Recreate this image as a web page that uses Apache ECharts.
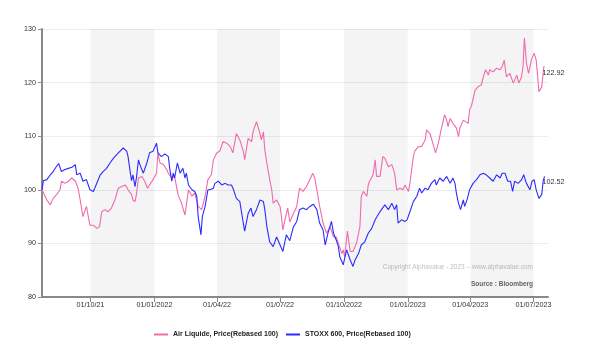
<!DOCTYPE html>
<html>
<head>
<meta charset="utf-8">
<script src="https://cdn.jsdelivr.net/npm/echarts@6/dist/echarts.min.js"></script>
<style>
html,body{margin:0;padding:0;background:#fff;}
#c{width:605px;height:357px;}
</style>
</head>
<body>
<div id="c"></div>
<script>
// ---- data (days counted from startDate) ----
var startDate = '2021-07-23';
var endDate = '2023-07-22';

var airDays = [0,7,12,16,21,26,28,33,38,43,48,52,55,59,64,69,74,79,83,86,91,95,100,105,110,115,120,124,129,131,134,136,139,144,148,152,155,160,165,167,170,175,180,182,187,191,196,201,206,211,216,220,225,230,235,239,244,247,252,256,261,266,271,275,280,285,290,292,297,302,304,309,314,316,319,321,324,328,331,333,338,343,345,347,350,354,357,362,367,371,376,381,386,390,393,396,400,405,410,415,420,424,427,432,434,436,440,444,448,453,458,460,463,468,470,472,477,480,482,487,491,494,499,504,508,511,516,520,523,528,530,535,537,542,547,552,554,559,563,567,571,576,580,583,585,588,592,597,600,602,607,609,614,616,619,624,628,633,636,639,643,645,650,655,660,663,666,669,674,679,684,687,691,693,695,698,701,705,709,712,716,720,723,724];
var airValues = [100.0,98.1,97.2,98.4,99.1,100.0,101.6,101.2,101.6,102.2,101.6,100.3,98.1,95.0,96.9,93.4,93.4,92.8,93.1,95.9,96.3,95.9,96.6,98.1,100.3,100.6,100.9,100.0,99.1,98.1,97.8,99.1,102.2,102.5,101.6,100.3,100.9,101.9,103.1,106.9,105.0,104.7,103.7,103.1,102.2,102.5,99.1,97.5,95.3,100.0,98.8,99.4,96.9,96.3,98.8,101.9,102.8,105.6,106.9,107.2,109.0,108.7,108.1,106.9,110.5,109.3,107.2,105.6,109.6,109.0,110.8,112.7,110.5,109.3,110.8,107.4,105.0,101.9,100.0,97.5,98.1,96.9,95.0,92.5,94.4,96.6,94.0,95.5,96.9,100.3,99.7,100.6,101.9,103.1,102.2,100.0,96.9,93.8,91.9,93.1,91.2,91.2,90.0,88.1,88.8,87.5,92.3,88.5,88.5,90.0,93.1,98.8,99.7,98.8,100.9,101.6,102.8,105.6,102.5,102.5,106.2,105.9,104.3,104.7,103.1,100.0,100.3,100.0,100.9,99.7,101.2,106.2,107.2,108.0,108.1,109.3,111.2,110.5,108.7,106.9,108.7,111.8,114.0,113.0,111.8,113.3,112.4,111.5,109.9,111.5,113.0,113.3,112.4,114.9,115.8,118.6,119.2,119.6,121.1,122.4,121.4,122.4,122.0,122.7,122.4,123.0,124.2,121.1,121.7,119.9,121.4,119.9,121.1,123.0,128.3,123.6,121.7,124.2,125.5,124.2,118.3,119.2,123.0,122.92];

var stoxxDays = [0,2,7,12,16,21,24,28,33,38,43,48,50,55,59,64,69,74,76,84,88,93,98,103,110,117,122,124,127,129,131,134,136,139,141,146,151,155,160,165,167,172,177,182,184,187,189,191,195,199,203,206,208,211,216,220,223,225,229,231,235,239,242,247,249,254,259,264,268,273,276,280,285,290,292,297,301,304,309,314,319,321,324,328,333,338,343,347,352,357,362,367,371,376,381,386,391,396,400,405,408,412,417,420,424,427,429,434,436,439,444,448,451,456,460,465,470,475,480,484,489,494,499,504,508,511,513,518,523,526,530,535,540,544,547,552,556,561,566,568,573,578,583,588,592,595,597,600,603,607,609,613,616,621,626,631,636,640,645,650,655,660,663,667,671,675,678,681,686,691,694,698,703,706,709,712,716,720,722,724];
var stoxxValues = [100.0,101.7,101.9,102.8,103.4,104.4,104.9,103.4,103.8,104.0,104.2,104.7,102.8,103.1,101.6,101.9,100.0,99.7,100.3,102.8,103.4,104.0,105.0,105.9,106.9,107.8,107.2,106.2,103.4,101.7,102.8,100.6,102.2,105.6,104.7,103.1,105.0,106.9,107.2,108.7,106.9,106.2,106.7,106.2,104.0,101.6,103.1,102.2,105.0,103.1,104.0,102.2,103.1,100.9,100.0,99.7,98.8,95.0,91.6,95.0,96.9,100.0,100.0,100.3,101.2,101.6,100.9,101.2,100.9,100.9,100.0,98.4,97.8,93.8,92.3,95.6,96.6,95.0,96.3,98.1,97.8,96.3,93.1,90.3,89.4,91.2,89.7,88.5,91.6,90.5,93.0,94.1,96.3,96.6,96.3,96.9,97.3,96.3,93.8,92.5,89.7,91.9,94.1,91.9,90.6,89.4,87.5,86.0,87.2,88.8,86.9,85.7,86.9,88.1,89.7,90.3,91.9,92.8,94.4,95.3,96.3,97.2,96.3,97.5,96.3,97.2,93.8,94.4,94.1,94.4,95.9,97.8,98.8,100.3,99.4,100.3,100.0,101.2,101.9,100.9,102.2,101.6,102.5,101.2,102.2,101.2,99.4,97.5,96.3,98.1,96.9,98.4,100.0,101.2,101.9,102.8,103.1,102.8,102.2,101.6,102.8,102.2,103.1,103.1,101.6,101.6,99.7,101.6,101.2,101.9,102.8,101.2,100.0,101.6,101.9,100.0,98.4,99.1,101.6,102.52];

var seriesNames = ['Air Liquide, Price(Rebased 100)', 'STOXX 600, Price(Rebased 100)'];
var tickDates = ['2021-10-01','2022-01-01','2022-04-01','2022-07-01','2022-10-01','2023-01-01','2023-04-01','2023-07-01'];
var tickLabels = ['01/10/21','01/01/2022','01/04/22','01/07/22','01/10/2022','01/01/2023','01/04/2023','01/07/2023'];
var bandStarts = ['2021-10-01','2022-04-01','2022-10-01','2023-04-01'];
var bandEnds   = ['2022-01-01','2022-07-01','2023-01-01','2023-07-01'];

// ---- build ----
var DAY = 86400000;
var t0 = Date.parse(startDate);
function dayOf(s){ return Math.round((Date.parse(s) - t0) / DAY); }
function toPairs(days, vals){ return days.map(function(d,i){ return [d, vals[i]]; }); }
var tickDays = tickDates.map(dayOf);

var chart = echarts.init(document.getElementById('c'), null, {renderer:'canvas'});
var FONT = 'Liberation Sans, Arial, sans-serif';

chart.setOption({
  animation: false,
  backgroundColor: '#ffffff',
  grid: { left: 42, right: 57, top: 29, bottom: 60, containLabel: false },
  xAxis: {
    type: 'value',
    min: 0,
    max: dayOf(endDate),
    axisLine: { show: true, onZero: false, lineStyle: { color: '#8a8a8a', width: 2 } },
    axisTick: { show: true, customValues: tickDays, length: 5, lineStyle: { color: '#8a8a8a', width: 1 } },
    axisLabel: {
      customValues: tickDays,
      color: '#333', fontSize: 7.2, fontFamily: FONT, margin: 5,
      formatter: function(v){
        var i = tickDays.indexOf(Math.round(v));
        return i >= 0 ? tickLabels[i] : '';
      }
    },
    splitLine: { show: false }
  },
  yAxis: {
    type: 'value',
    min: 80, max: 130, interval: 10,
    axisLine: { show: true, lineStyle: { color: '#8a8a8a', width: 2 } },
    axisTick: { show: true, length: 4, lineStyle: { color: '#8a8a8a' } },
    axisLabel: { color: '#333', fontSize: 7.2, fontFamily: FONT, margin: 6 },
    splitLine: { show: true, lineStyle: { color: '#ececec', width: 1 } }
  },
  legend: {
    left: 149, top: 326,
    itemWidth: 14, itemHeight: 2, itemGap: 8,
    icon: 'rect',
    textStyle: { fontSize: 7, fontWeight: 'bold', color: '#222', fontFamily: FONT },
    data: seriesNames
  },
  graphic: [
    { type: 'text', right: 72, top: 264, style: { text: 'Copyright Alphavalue - 2023 \u2013 www.alphavalue.com', fill: '#c2c2c2', font: '6.5px Liberation Sans, Arial, sans-serif' } },
    { type: 'text', right: 72, top: 281, style: { text: 'Source : Bloomberg', fill: '#6a6a6a', font: 'bold 6.5px Liberation Sans, Arial, sans-serif' } }
  ],
  series: [
    {
      name: 'bands', type: 'line', data: [], z: 1, silent: true,
      markArea: {
        silent: true,
        itemStyle: { color: 'rgba(0,0,0,0.045)' },
        data: bandStarts.map(function(s,i){ return [{ xAxis: dayOf(s) }, { xAxis: dayOf(bandEnds[i]) }]; })
      }
    },
    {
      name: seriesNames[0], type: 'line', z: 3,
      data: toPairs(airDays, airValues),
      showSymbol: false, symbol: 'none',
      lineStyle: { color: '#f06aae', width: 1.1 },
      itemStyle: { color: '#f06aae' },
      endLabel: { show: true, offset: [-10, 6], color: '#333', fontSize: 7.2, fontFamily: FONT,
        formatter: function(p){ return p.value[1].toFixed(2); } }
    },
    {
      name: seriesNames[1], type: 'line', z: 4,
      data: toPairs(stoxxDays, stoxxValues),
      showSymbol: false, symbol: 'none',
      lineStyle: { color: '#2b2bff', width: 1.1 },
      itemStyle: { color: '#2b2bff' },
      endLabel: { show: true, offset: [-10, 6], color: '#333', fontSize: 7.2, fontFamily: FONT,
        formatter: function(p){ return p.value[1].toFixed(2); } }
    }
  ]
});
</script>
</body>
</html>
